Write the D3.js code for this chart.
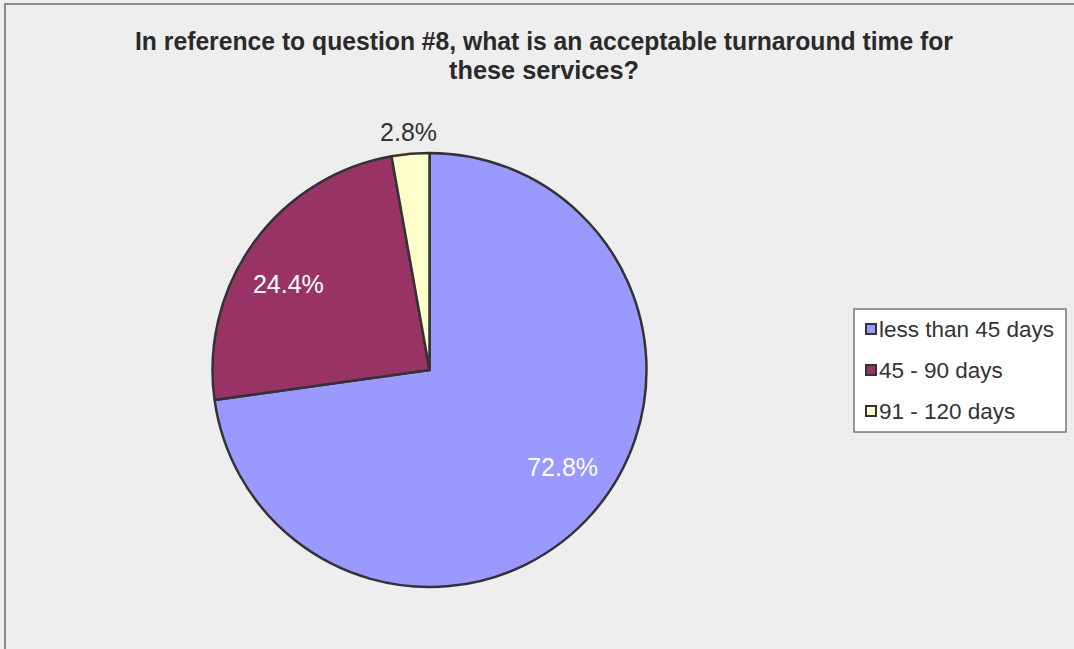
<!DOCTYPE html>
<html>
<head>
<meta charset="utf-8">
<script src="https://cdn.jsdelivr.net/npm/d3@7"></script>
<style>
  body { margin: 0; background: #eeeeee; }
  text { font-family: "Liberation Sans", Arial, sans-serif; }
</style>
</head>
<body>
<div id="chart"></div>
<script>
var categories = ["less than 45 days", "45 - 90 days", "91 - 120 days"];
var values = [72.8, 24.4, 2.8];
var colors = ["#9999ff", "#993366", "#ffffcc"];
var titleLines = ["In reference to question #8, what is an acceptable turnaround time for",
                  "these services?"];

var width = 1074,
    height = 649,
    radius = 217,
    cx = 429.5,
    cy = 370;

var svg = d3.select("#chart")
    .append("svg")
    .attr("width", width)
    .attr("height", height);

// frame
svg.append("rect")
    .attr("x", 5).attr("y", 4)
    .attr("width", width + 10).attr("height", height + 10)
    .attr("fill", "#eeeeee")
    .attr("stroke", "#888")
    .attr("stroke-width", 2);

// title (condensed look)
svg.append("g").selectAll("text")
    .data(titleLines)
    .enter().append("text")
    .attr("x", 544)
    .attr("y", function (d, i) { return 50 + i * 29; })
    .attr("text-anchor", "middle")
    .attr("font-size", 25)
    .attr("font-weight", "bold")
    .attr("fill", "#2a2a2a")
    .attr("textLength", function (d, i) { return i == 0 ? 818 : 190; })
    .attr("lengthAdjust", "spacingAndGlyphs")
    .text(function (d) { return d; });

var data = categories.map(function (c, i) {
    return { label: c, value: values[i], color: colors[i] };
});

var pie = d3.pie()
    .sort(null)
    .value(function (d) { return d.value; });

var arc = d3.arc()
    .outerRadius(radius)
    .innerRadius(0);

var labelArc = d3.arc()
    .outerRadius(radius * 0.76)
    .innerRadius(radius * 0.76);

var outerArc = d3.arc()
    .outerRadius(radius * 1.1)
    .innerRadius(radius * 1.1);

// labels sit a little counter-clockwise of the slice middle
var labelShift = -0.085;

var g = svg.append("g")
    .attr("transform", "translate(" + cx + "," + cy + ")");

g.selectAll("path.slice")
    .data(pie(data))
    .enter().append("path")
    .attr("class", "slice")
    .attr("d", arc)
    .attr("fill", function (d) { return d.data.color; })
    .attr("stroke", "#333")
    .attr("stroke-width", 2.5)
    .attr("stroke-linejoin", "round");

g.selectAll("text.pct")
    .data(pie(data))
    .enter().append("text")
    .attr("class", "pct")
    .attr("transform", function (d) {
        var small = d.data.value < 5;
        var s = small ? 0 : labelShift;
        var d2 = { startAngle: d.startAngle + s, endAngle: d.endAngle + s };
        var pos = (small ? outerArc : labelArc).centroid(d2);
        return "translate(" + pos + ")";
    })
    .attr("dy", "0.35em")
    .attr("text-anchor", "middle")
    .attr("font-size", 25)
    .attr("fill", function (d) { return d.data.value < 5 ? "#333" : "#fff"; })
    .text(function (d) { return d.data.value.toFixed(1) + "%"; });

// legend
var legend = svg.append("g")
    .attr("transform", "translate(854,309)");

legend.append("rect")
    .attr("width", 212).attr("height", 123)
    .attr("fill", "#fff")
    .attr("stroke", "#777")
    .attr("stroke-width", 1.5);

var item = legend.selectAll("g.item")
    .data(data)
    .enter().append("g")
    .attr("class", "item")
    .attr("transform", function (d, i) { return "translate(0," + (20 + i * 41) + ")"; });

item.append("rect")
    .attr("x", 12).attr("y", -5)
    .attr("width", 10).attr("height", 10)
    .attr("fill", function (d) { return d.color; })
    .attr("stroke", "#333")
    .attr("stroke-width", 2);

item.append("text")
    .attr("x", 25)
    .attr("y", 0)
    .attr("dy", "0.35em")
    .attr("font-size", 22.5)
    .attr("fill", "#333")
    .text(function (d) { return d.label; });
</script>
</body>
</html>
